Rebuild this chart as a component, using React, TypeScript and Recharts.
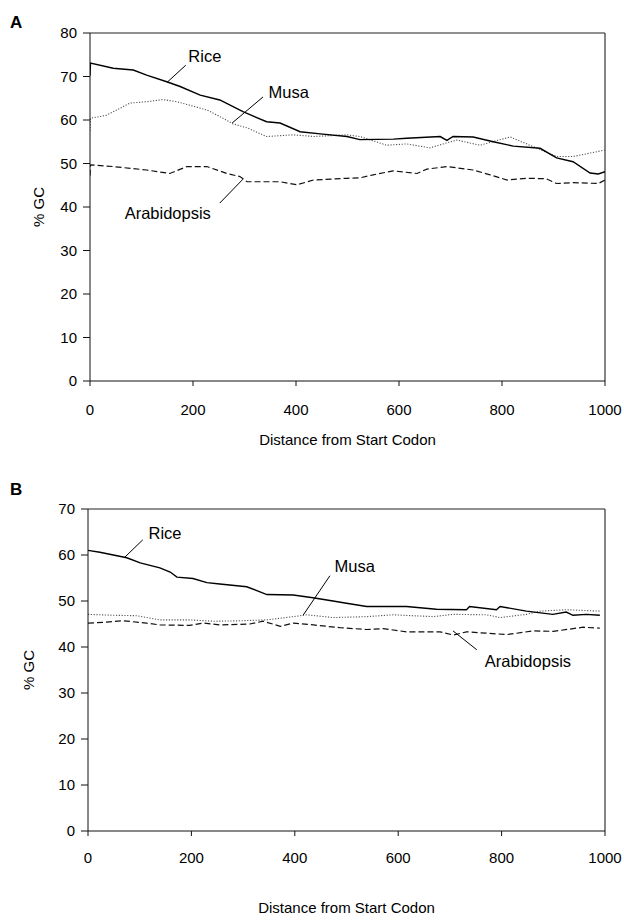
import React from 'react';
import { LineChart, Line, XAxis, YAxis, ReferenceLine, ReferenceDot, Label } from 'recharts';

const FONT = '"Liberation Sans", Arial, Helvetica, sans-serif';

const distanceTicks = [0, 200, 400, 600, 800, 1000];
const gcTicksA = [0, 10, 20, 30, 40, 50, 60, 70, 80];
const gcTicksB = [0, 10, 20, 30, 40, 50, 60, 70];

// Panel A
const riceA_d = [0, 1, 45, 84, 110, 149, 175, 214, 252, 297, 343, 369, 408, 447, 499, 524, 589, 615, 680, 693, 705, 744, 783, 822, 874, 906, 938, 971, 987, 1000];
const riceA_v = [70.2, 73.1, 71.9, 71.5, 70.3, 68.8, 67.7, 65.7, 64.6, 61.9, 59.6, 59.3, 57.3, 56.8, 56.2, 55.5, 55.6, 55.8, 56.2, 55.3, 56.2, 56.1, 55.0, 54.0, 53.5, 51.3, 50.4, 47.8, 47.6, 48.1];
const musaA_d = [0, 1, 32, 78, 110, 142, 168, 194, 227, 252, 278, 305, 343, 395, 434, 499, 524, 576, 615, 660, 712, 757, 816, 860, 906, 938, 1000];
const musaA_v = [57.5, 60.4, 61.1, 63.9, 64.2, 64.7, 64.2, 63.4, 62.3, 60.8, 59.1, 58.2, 56.2, 56.6, 56.2, 56.6, 56.2, 54.2, 54.5, 53.6, 55.4, 54.2, 56.1, 53.9, 51.6, 51.6, 53.1];
const arabA_d = [0, 1, 45, 110, 155, 188, 227, 266, 291, 305, 369, 402, 434, 499, 524, 550, 589, 635, 654, 693, 744, 777, 810, 849, 886, 906, 938, 987, 1000];
const arabA_v = [47.2, 49.7, 49.3, 48.5, 47.7, 49.3, 49.3, 47.7, 47.0, 45.8, 45.8, 45.1, 46.2, 46.6, 46.7, 47.4, 48.3, 47.7, 48.7, 49.3, 48.5, 47.4, 46.2, 46.6, 46.5, 45.4, 45.6, 45.4, 46.2];

// Panel B
const riceB_d = [0, 23, 49, 75, 101, 139, 159, 172, 203, 230, 255, 307, 346, 397, 435, 474, 500, 539, 616, 674, 732, 738, 790, 797, 848, 899, 925, 938, 964, 990];
const riceB_v = [61.0, 60.6, 60.0, 59.4, 58.3, 57.2, 56.3, 55.2, 54.9, 54.0, 53.7, 53.1, 51.4, 51.3, 50.7, 50.0, 49.5, 48.8, 48.8, 48.2, 48.1, 48.8, 48.1, 48.8, 47.8, 47.1, 47.6, 46.9, 47.1, 46.9];
const musaB_d = [0, 49, 94, 139, 197, 243, 294, 346, 397, 423, 474, 539, 590, 668, 706, 771, 797, 848, 874, 925, 990];
const musaB_v = [47.1, 46.9, 46.8, 45.9, 45.9, 45.6, 45.7, 45.9, 46.6, 47.0, 46.4, 46.6, 47.0, 46.6, 47.1, 47.0, 46.4, 47.1, 47.8, 48.1, 47.8];
const arabB_d = [0, 36, 68, 113, 139, 197, 223, 255, 313, 339, 372, 397, 436, 487, 539, 571, 616, 681, 707, 732, 810, 861, 900, 958, 990];
const arabB_v = [45.2, 45.4, 45.7, 45.2, 44.8, 44.7, 45.2, 44.8, 45.0, 45.6, 44.5, 45.2, 44.8, 44.2, 43.8, 44.0, 43.3, 43.3, 42.6, 43.3, 42.7, 43.5, 43.4, 44.3, 44.1];

// callouts: label at (x, y), leader line from -> to (data coordinates)
const calloutsA = [
  { text: 'Rice', x: 223, y: 74.7, from: [186, 72.6], to: [150, 68.7] },
  { text: 'Musa', x: 386, y: 66.4, from: [336, 65.3], to: [276, 59.3] },
  { text: 'Arabidopsis', x: 151, y: 38.6, from: [252, 40.9], to: [297, 46.4] },
];
const calloutsB = [
  { text: 'Rice', x: 149, y: 64.8, from: [106, 63.3], to: [70, 59.4] },
  { text: 'Musa', x: 516, y: 57.5, from: [468, 55.5], to: [416, 46.9] },
  { text: 'Arabidopsis', x: 851, y: 37.0, from: [752, 39.4], to: [706, 43.5] },
];

const toPoints = (d: number[], v: number[]) => d.map((x, i) => ({ d: x, v: v[i] }));

const xTitle = (dy: number) => (props: any) => {
  const { x, y, width } = props.viewBox;
  return (
    <text x={x + width / 2} y={y + dy} textAnchor="middle" dominantBaseline="central" fontSize={15} fill="#000" fontFamily={FONT}>
      Distance from Start Codon
    </text>
  );
};

const yTitle = (cx: number) => (props: any) => {
  const { y, height } = props.viewBox;
  const cy = y + height / 2;
  return (
    <text x={cx} y={cy} textAnchor="middle" dominantBaseline="central" fontSize={15} fill="#000" fontFamily={FONT} transform={`rotate(-90 ${cx} ${cy})`}>
      % GC
    </text>
  );
};

interface PanelProps {
  top: number;
  height: number;
  marginTop: number;
  marginBottom: number;
  yWidth: number;
  xHeight: number;
  yMax: number;
  yTicks: number[];
  xTickMargin: number;
  titleDy: number;
  yTitleX: number;
  rice: { d: number; v: number }[];
  musa: { d: number; v: number }[];
  arab: { d: number; v: number }[];
  callouts: typeof calloutsA;
}

const Panel: React.FC<PanelProps> = (p) => (
  <div style={{ position: 'absolute', left: 0, top: p.top }}>
    <LineChart width={624} height={p.height} margin={{ top: p.marginTop, right: 19, left: 0, bottom: p.marginBottom }}>
      <XAxis
        dataKey="d"
        type="number"
        domain={[0, 1000]}
        ticks={distanceTicks}
        interval={0}
        height={p.xHeight}
        tickSize={5}
        tickMargin={p.xTickMargin}
        axisLine={{ stroke: '#111' }}
        tickLine={{ stroke: '#111' }}
        tick={{ fontSize: 15, fill: '#000', fontFamily: FONT }}
        allowDataOverflow
      >
        <Label content={xTitle(p.titleDy)} />
      </XAxis>
      <YAxis
        type="number"
        domain={[0, p.yMax]}
        ticks={p.yTicks}
        interval={0}
        width={p.yWidth}
        tickSize={7}
        tickMargin={6}
        axisLine={{ stroke: '#111' }}
        tickLine={{ stroke: '#111' }}
        tick={{ fontSize: 15, fill: '#000', fontFamily: FONT }}
        allowDataOverflow
      >
        <Label content={yTitle(p.yTitleX)} />
      </YAxis>
      <ReferenceLine y={p.yMax} stroke="#222" strokeWidth={1.2} />
      <ReferenceLine x={1000} stroke="#333" strokeWidth={1.2} />
      <Line data={p.musa} dataKey="v" type="linear" stroke="#555" strokeWidth={1.1} strokeDasharray="1.2 1.6" dot={false} isAnimationActive={false} />
      <Line data={p.arab} dataKey="v" type="linear" stroke="#111" strokeWidth={1.2} strokeDasharray="6 3" dot={false} isAnimationActive={false} />
      <Line data={p.rice} dataKey="v" type="linear" stroke="#000" strokeWidth={1.4} dot={false} isAnimationActive={false} />
      {p.callouts.map((c) => (
        <ReferenceLine
          key={c.text + 'line'}
          segment={[{ x: c.from[0], y: c.from[1] }, { x: c.to[0], y: c.to[1] }]}
          stroke="#000"
          strokeWidth={1}
        />
      ))}
      {p.callouts.map((c) => (
        <ReferenceDot
          key={c.text + 'label'}
          x={c.x}
          y={c.y}
          r={1}
          fill="none"
          stroke="none"
          label={{ value: c.text, position: 'center', fontSize: 16.5, fill: '#000', fontFamily: FONT }}
        />
      ))}
    </LineChart>
  </div>
);

const letterStyle: React.CSSProperties = {
  position: 'absolute',
  left: 10,
  fontFamily: FONT,
  fontWeight: 'bold',
  fontSize: 17,
  lineHeight: '18px',
};

export default function App() {
  return (
    <div style={{ position: 'absolute', left: 0, top: 0, width: 624, height: 921, background: '#fff' }}>
      <Panel
        top={0}
        height={460}
        marginTop={33}
        marginBottom={19}
        yWidth={90}
        xHeight={60}
        yMax={80}
        yTicks={gcTicksA}
        xTickMargin={18}
        titleDy={58}
        yTitleX={38}
        rice={toPoints(riceA_d, riceA_v)}
        musa={toPoints(musaA_d, musaA_v)}
        arab={toPoints(arabA_d, arabA_v)}
        callouts={calloutsA}
      />
      <Panel
        top={470}
        height={451}
        marginTop={39}
        marginBottom={20}
        yWidth={88}
        xHeight={70}
        yMax={70}
        yTicks={gcTicksB}
        xTickMargin={16}
        titleDy={76}
        yTitleX={28}
        rice={toPoints(riceB_d, riceB_v)}
        musa={toPoints(musaB_d, musaB_v)}
        arab={toPoints(arabB_d, arabB_v)}
        callouts={calloutsB}
      />
      <div style={{ ...letterStyle, top: 14 }}>A</div>
      <div style={{ ...letterStyle, top: 481 }}>B</div>
    </div>
  );
}
